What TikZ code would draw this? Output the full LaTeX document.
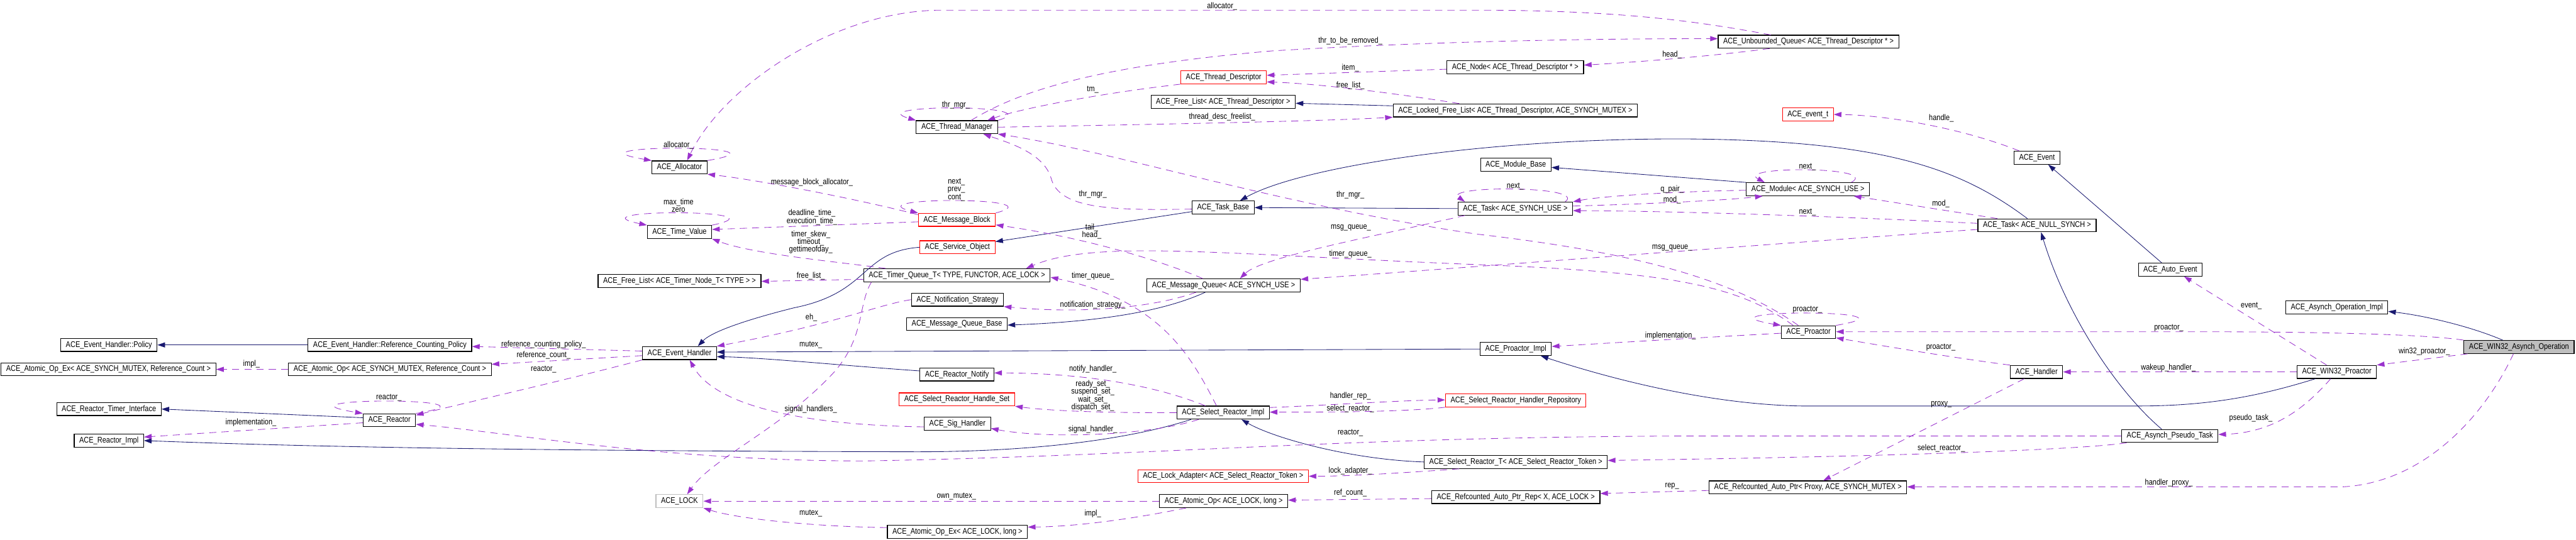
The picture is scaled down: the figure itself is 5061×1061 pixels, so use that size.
\documentclass[tikz,border=0pt]{standalone}
\usepackage{fontspec}
\setmainfont{Liberation Sans}[FakeStretch=0.84]
\usetikzlibrary{arrows.meta}
\definecolor{edgeblue}{HTML}{191970}
\definecolor{edgepurple}{HTML}{9A32CD}
\definecolor{boxgray}{HTML}{BFBFBF}

\begin{document}
\begin{tikzpicture}[
  x=0.01cm, y=-0.01cm,
  >={Triangle[length=0.15cm, width=0.1cm]},
  cls/.style={
    rectangle, draw=black, fill=white, line width=0.4pt,
    minimum height=0.255cm, inner xsep=0.1cm, inner ysep=0pt,
    font=\fontsize{4.6}{4.3}\selectfont
  },
  redcls/.style={cls, draw=red},
  graycls/.style={cls, draw=boxgray},
  focuscls/.style={cls, fill=boxgray},
  lbl/.style={inner sep=0pt, align=center, font=\fontsize{4.6}{4.3}\selectfont},
  inherit/.style={->, draw=edgeblue, line width=0.3pt},
  member/.style={->, draw=edgepurple, line width=0.3pt, dash pattern=on 0.14cm off 0.1cm},
]
\useasboundingbox (0,0) rectangle (5061,1061);

% Allocation and time
\node[cls] (alloc) at (1335,329) {ACE\_Allocator};
\node[cls] (tval) at (1335,456) {ACE\_Time\_Value};
\node[cls] (flTn) at (1335,552) {ACE\_Free\_List< ACE\_Timer\_Node\_T< TYPE > >};
\node[cls] (evh) at (1335,694) {ACE\_Event\_Handler};
\node[graycls] (lock) at (1335,985) {ACE\_LOCK};

% Threads
\node[cls] (tmgr) at (1880,250) {ACE\_Thread\_Manager};
\node[redcls] (tdesc) at (2404,152) {ACE\_Thread\_Descriptor};
\node[cls] (flTd) at (2403,200) {ACE\_Free\_List< ACE\_Thread\_Descriptor >};
\node[cls] (nodeTd) at (2977,132) {ACE\_Node< ACE\_Thread\_Descriptor * >};
\node[cls] (lflist) at (2977,217) {ACE\_Locked\_Free\_List< ACE\_Thread\_Descriptor, ACE\_SYNCH\_MUTEX >};
\node[cls] (uqueue) at (3553,82) {ACE\_Unbounded\_Queue< ACE\_Thread\_Descriptor * >};

% Tasks, modules, messages
\node[redcls] (mblock) at (1880,432) {ACE\_Message\_Block};
\node[redcls] (svcobj) at (1881,486) {ACE\_Service\_Object};
\node[cls] (tqueue) at (1880,541) {ACE\_Timer\_Queue\_T< TYPE, FUNCTOR, ACE\_LOCK >};
\node[cls] (nstrat) at (1881,589) {ACE\_Notification\_Strategy};
\node[cls] (mqbase) at (1880,637) {ACE\_Message\_Queue\_Base};
\node[cls] (taskbase) at (2403,408) {ACE\_Task\_Base};
\node[cls] (mqueue) at (2404,561) {ACE\_Message\_Queue< ACE\_SYNCH\_USE >};
\node[cls] (modbase) at (2978,324) {ACE\_Module\_Base};
\node[cls] (taskUse) at (2977,410) {ACE\_Task< ACE\_SYNCH\_USE >};
\node[cls] (module) at (3552,372) {ACE\_Module< ACE\_SYNCH\_USE >};
\node[redcls] (evt) at (3552,225) {ACE\_event\_t};
\node[cls] (event) at (4002,310) {ACE\_Event};
\node[cls] (taskNull) at (4002,443) {ACE\_Task< ACE\_NULL\_SYNCH >};
\node[cls] (autoevt) at (4264,530) {ACE\_Auto\_Event};

% Event handling and reactors
\node[cls] (policy) at (214,678) {ACE\_Event\_Handler::Policy};
\node[cls] (aopexRc) at (213,726) {ACE\_Atomic\_Op\_Ex< ACE\_SYNCH\_MUTEX, Reference\_Count >};
\node[cls] (rti) at (214,804) {ACE\_Reactor\_Timer\_Interface};
\node[cls] (rimpl) at (214,866) {ACE\_Reactor\_Impl};
\node[cls] (rcpolicy) at (766,678) {ACE\_Event\_Handler::Reference\_Counting\_Policy};
\node[cls] (aopRc) at (766,726) {ACE\_Atomic\_Op< ACE\_SYNCH\_MUTEX, Reference\_Count >};
\node[cls] (reactor) at (765,826) {ACE\_Reactor};
\node[cls] (rnotify) at (1880,736) {ACE\_Reactor\_Notify};
\node[redcls] (hset) at (1880,785) {ACE\_Select\_Reactor\_Handle\_Set};
\node[cls] (sigh) at (1881,833) {ACE\_Sig\_Handler};
\node[cls] (aopexL) at (1881,1045) {ACE\_Atomic\_Op\_Ex< ACE\_LOCK, long >};
\node[cls] (srimpl) at (2403,811) {ACE\_Select\_Reactor\_Impl};
\node[redcls] (ladapter) at (2403,936) {ACE\_Lock\_Adapter< ACE\_Select\_Reactor\_Token >};
\node[cls] (aopL) at (2404,985) {ACE\_Atomic\_Op< ACE\_LOCK, long >};
\node[cls] (pimpl) at (2978,686) {ACE\_Proactor\_Impl};
\node[redcls] (hrepo) at (2978,787) {ACE\_Select\_Reactor\_Handler\_Repository};
\node[cls] (srT) at (2978,908) {ACE\_Select\_Reactor\_T< ACE\_Select\_Reactor\_Token >};
\node[cls] (raprep) at (2978,977) {ACE\_Refcounted\_Auto\_Ptr\_Rep< X, ACE\_LOCK >};

% Proactor side
\node[cls] (proactor) at (3553,653) {ACE\_Proactor};
\node[cls] (handler) at (4001,731) {ACE\_Handler};
\node[cls] (rap) at (3552,958) {ACE\_Refcounted\_Auto\_Ptr< Proxy, ACE\_SYNCH\_MUTEX >};
\node[cls] (pseudo) at (4263,857) {ACE\_Asynch\_Pseudo\_Task};
\node[cls] (aoimpl) at (4591,604) {ACE\_Asynch\_Operation\_Impl};
\node[cls] (w32p) at (4591,731) {ACE\_WIN32\_Proactor};
\node[focuscls] (w32op) at (4949,682) {ACE\_WIN32\_Asynch\_Operation};

% Inheritance
\draw[inherit] (rcpolicy.west) -- (policy.east);
\draw[inherit] (reactor.west |- 0,821) -- (rti.east);
\draw[inherit] (srimpl.south -| 2340,0) .. controls (2230,860) and (2050,888) .. (1800,888)
  .. controls (1000,886) and (600,878) .. (rimpl.east);
\draw[inherit] (srT.west) .. controls (2650,903) and (2500,860) .. (srimpl.south -| 2439,0);
\draw[inherit] (rnotify.west |- 0,729) .. controls (1650,718) and (1500,703) .. (evh.east |- 0,701);
\draw[inherit] (pimpl.west) -- (evh.east |- 0,692);
\draw[inherit] (svcobj.west) .. controls (1690,495) and (1710,575) .. (1560,605)
  .. controls (1480,625) and (1400,650) .. (evh.north -| 1371,0);
\draw[inherit] (taskbase.west |- 0,416) -- (svcobj.east |- 0,475);
\draw[inherit] (taskUse.west) -- (taskbase.east);
\draw[inherit] (taskNull.north -| 3983,0) .. controls (3850,330) and (3700,275) .. (3300,273)
  .. controls (2900,273) and (2550,330) .. (taskbase.north -| 2436,0);
\draw[inherit] (module.north west) -- (modbase.east |- 0,329);
\draw[inherit] (lflist.west |- 0,208) -- (flTd.east |- 0,203);
\draw[inherit] (mqueue.south -| 2368,0) .. controls (2290,610) and (2170,632) .. (mqbase.east |- 0,639);
\draw[inherit] (autoevt.north -| 4247,0) -- (event.south -| 4024,0);
\draw[inherit] (pseudo.north -| 4247,0) .. controls (4160,770) and (4060,620) .. (taskNull.south -| 4010,0);
\draw[inherit] (w32p.south -| 4549,0) .. controls (4450,775) and (4350,798) .. (4200,798) -- (3540,798)
  .. controls (3350,795) and (3150,740) .. (pimpl.south -| 3027,0);
\draw[inherit] (w32op.north -| 4917,0) .. controls (4850,640) and (4760,620) .. (aoimpl.east |- 0,612);

% Members: threads and allocation
\draw[member] (uqueue.north -| 3479,0) .. controls (3350,45) and (3200,20) .. (2900,20) -- (1850,20)
  .. controls (1640,20) and (1420,170) .. (alloc.north -| 1350,0);
\draw[member] (alloc.north east) .. controls +(190,-32) and +(-190,-32) .. (alloc.north west);
\draw[member] (mblock.west |- 0,422) .. controls (1700,395) and (1500,355) .. (alloc.south east);
\draw[member] (mblock.north east) .. controls +(125,-32) and +(-125,-32) .. (mblock.north west);
\draw[member] (mblock.west |- 0,436) -- (tval.east |- 0,451);
\draw[member] (tval.north east) .. controls +(155,-32) and +(-155,-32) .. (tval.north west);
\draw[member] (tqueue.north -| 1740,0) .. controls (1650,515) and (1480,500) .. (tval.south east);
\draw[member] (tqueue.west |- 0,549) -- (flTn.east |- 0,553);
\draw[member] (tmgr.north east) .. controls +(110,-32) and +(-110,-32) .. (tmgr.north west);
\draw[member] (tdesc.south west) .. controls (2150,185) and (2000,215) .. (tmgr.north -| 1940,0);
\draw[member] (tmgr.north -| 1908,0) .. controls (2000,180) and (2150,130) .. (2500,100)
  .. controls (2800,82) and (3100,76) .. (uqueue.west |- 0,76);
\draw[member] (uqueue.south -| 3477,0) .. controls (3380,108) and (3250,120) .. (nodeTd.east |- 0,128);
\draw[member] (nodeTd.west |- 0,136) -- (tdesc.east |- 0,148);
\draw[member] (lflist.north -| 2867,0) .. controls (2750,185) and (2600,165) .. (tdesc.east |- 0,161);
\draw[member] (tmgr.east) .. controls (2300,244) and (2600,238) .. (lflist.south west);
\draw[member] (taskbase.west |- 0,411) .. controls (2180,414) and (2080,410) .. (2065,350)
  .. controls (2050,300) and (1980,280) .. (tmgr.south -| 1932,0);
\draw[member] (proactor.north -| 3533,0) .. controls (3420,560) and (3250,500) .. (2900,460)
  .. controls (2500,400) and (2200,300) .. (tmgr.south east);
\draw[member] (proactor.north -| 3523,0) .. controls (3420,565) and (3300,535) .. (2900,520)
  .. controls (2400,500) and (2150,470) .. (tqueue.north -| 2016,0);

% Members: tasks and queues
\draw[member] (mqueue.north -| 2363,0) .. controls (2300,520) and (2150,470) .. (mblock.east |- 0,442);
\draw[member] (taskUse.south -| 2878,0) .. controls (2700,465) and (2480,505) .. (mqueue.north -| 2436,0);
\draw[member] (taskNull.west |- 0,451) .. controls (3400,485) and (2900,525) .. (mqueue.east |- 0,549);
\draw[member] (srimpl.north -| 2390,0) .. controls (2340,700) and (2280,590) .. (tqueue.east |- 0,545);
\draw[member] (mqueue.south -| 2350,0) .. controls (2250,610) and (2100,615) .. (nstrat.south east);
\draw[member] (nstrat.west) .. controls (1720,600) and (1650,635) .. (evh.north east);
\draw[member] (tqueue.south -| 1712,0) .. controls (1685,600) and (1700,660) .. (1640,730)
  .. controls (1540,840) and (1400,900) .. (lock.north -| 1350,0);
\draw[member] (taskUse.north -| 3075,0) .. controls +(45,-32) and +(-45,-32) .. (taskUse.north -| 2878,0);
\draw[member] (module.north -| 3637,0) .. controls +(60,-32) and +(-60,-32) .. (module.north -| 3467,0);
\draw[member] (module.west |- 0,374) .. controls (3300,376) and (3150,385) .. (taskUse.north east);
\draw[member] (taskUse.east |- 0,405) .. controls (3200,402) and (3380,395) .. (module.south -| 3463,0);
\draw[member] (taskNull.north -| 3924,0) -- (module.south -| 3642,0);
\draw[member] (taskNull.west |- 0,439) .. controls (3600,425) and (3300,415) .. (taskUse.east |- 0,414);
\draw[member] (event.north -| 3967,0) .. controls (3850,250) and (3700,226) .. (evt.east);

% Members: event handlers and reactors
\draw[member] (sigh.west |- 0,839) .. controls (1550,835) and (1400,790) .. (evh.south -| 1355,0);
\draw[member] (evh.west |- 0,690) -- (rcpolicy.east |- 0,681);
\draw[member] (evh.west |- 0,699) -- (aopRc.east |- 0,716);
\draw[member] (evh.south west) .. controls (1100,750) and (900,795) .. (reactor.east |- 0,816);
\draw[member] (reactor.north east) .. controls +(200,-32) and +(-200,-32) .. (reactor.north west);
\draw[member] (pseudo.west) -- (3300,857) .. controls (2600,860) and (2300,895) .. (1700,906)
  .. controls (1300,906) and (1000,850) .. (reactor.east |- 0,834);
\draw[member] (reactor.west |- 0,831) -- (rimpl.east |- 0,859);
\draw[member] (aopRc.west) -- (aopexRc.east);
\draw[member] (srimpl.north -| 2368,0) .. controls (2250,750) and (2100,733) .. (rnotify.east |- 0,733);
\draw[member] (srimpl.west) .. controls (2150,812) and (2050,806) .. (hset.south east);
\draw[member] (srimpl.south -| 2355,0) .. controls (2250,858) and (2050,862) .. (sigh.east |- 0,842);
\draw[member] (aopL.west) -- (lock.east);
\draw[member] (aopexL.west |- 0,1037) .. controls (1600,1035) and (1450,1020) .. (lock.south east);
\draw[member] (aopL.south -| 2330,0) .. controls (2200,1025) and (2100,1035) .. (aopexL.east |- 0,1036);
\draw[member] (raprep.west |- 0,980) -- (aopL.east |- 0,983);
\draw[member] (rap.west |- 0,964) -- (raprep.east |- 0,970);
\draw[member] (srimpl.east |- 0,801) .. controls (2600,797) and (2750,787) .. (hrepo.west |- 0,786);
\draw[member] (hrepo.south west) .. controls (2760,810) and (2600,810) .. (srimpl.east |- 0,810);
\draw[member] (pseudo.south -| 4178,0) .. controls (4100,882) and (3800,896) .. (srT.east |- 0,905);
\draw[member] (srT.south -| 2867,0) .. controls (2750,930) and (2650,936) .. (ladapter.east);

% Members: proactor side
\draw[member] (proactor.west |- 0,655) .. controls (3350,663) and (3200,672) .. (pimpl.east |- 0,681);
\draw[member] (proactor.north east) .. controls +(190,-32) and +(-190,-32) .. (proactor.north west);
\draw[member] (handler.north west) .. controls (3850,705) and (3700,680) .. (proactor.east |- 0,664);
\draw[member] (w32op.north west) .. controls (4750,655) and (4500,652) .. (4300,652) -- (proactor.east |- 0,652);
\draw[member] (w32p.west) -- (handler.east);
\draw[member] (handler.south -| 3977,0) -- (rap.north -| 3582,0);
\draw[member] (w32op.south -| 4938,0) .. controls (4880,820) and (4760,950) .. (4600,957) -- (rap.east |- 0,957);
\draw[member] (w32op.south -| 4848,0) -- (w32p.north east);
\draw[member] (w32p.north -| 4571,0) -- (autoevt.south -| 4291,0);
\draw[member] (w32p.south -| 4579,0) .. controls (4530,800) and (4470,850) .. (pseudo.east |- 0,854);

% Edge labels
\node[lbl] (lbAllocQ) at (2401,13) {allocator\_};
\node[lbl] (lbAllocSelf) at (1333,285) {allocator\_};
\node[lbl] (lbMbAlloc) at (1595,359) {message\_block\_allocator\_};
\node[lbl] (lbTvSelf) at (1333,404) {max\_time\\zero};
\node[lbl] (lbDeadline) at (1595,427) {deadline\_time\_\\execution\_time\_};
\node[lbl] (lbSkew) at (1593,476) {timer\_skew\_\\timeout\_\\gettimeofday\_};
\node[lbl] (lbTmSelf) at (1878,207) {thr\_mgr\_};
\node[lbl] (lbTm) at (2147,176) {tm\_};
\node[lbl] (lbRemoved) at (2653,80) {thr\_to\_be\_removed\_};
\node[lbl] (lbHeadQ) at (3285,107) {head\_};
\node[lbl] (lbItem) at (2653,134) {item\_};
\node[lbl] (lbFreeTd) at (2653,168) {free\_list\_};
\node[lbl] (lbDescFree) at (2401,230) {thread\_desc\_freelist\_};
\node[lbl] (lbMbSelf) at (1879,373) {next\_\\prev\_\\cont\_};
\node[lbl] (lbTbMgr) at (2147,382) {thr\_mgr\_};
\node[lbl] (lbPrMgr) at (2653,383) {thr\_mgr\_};
\node[lbl] (lbTail) at (2145,455) {tail\_\\head\_};
\node[lbl] (lbTuSelf) at (2977,367) {next\_};
\node[lbl] (lbPair) at (3285,372) {q\_pair\_};
\node[lbl] (lbModU) at (3285,393) {mod\_};
\node[lbl] (lbHandle) at (3814,232) {handle\_};
\node[lbl] (lbModSelf) at (3551,328) {next\_};
\node[lbl] (lbModN) at (3813,401) {mod\_};
\node[lbl] (lbNextN) at (3551,417) {next\_};
\node[lbl] (lbMsgU) at (2654,448) {msg\_queue\_};
\node[lbl] (lbTqPr) at (2653,499) {timer\_queue\_};
\node[lbl] (lbMsgN) at (3285,487) {msg\_queue\_};
\node[lbl] (lbImplRc) at (494,716) {impl\_};
\node[lbl] (lbReSelf) at (764,781) {reactor\_};
\node[lbl] (lbImplRe) at (493,831) {implementation\_};
\node[lbl] (lbFreeTn) at (1593,543) {free\_list\_};
\node[lbl] (lbEh) at (1594,624) {eh\_};
\node[lbl] (lbRcPol) at (1068,677) {reference\_counting\_policy\_};
\node[lbl] (lbRcCnt) at (1068,698) {reference\_count\_};
\node[lbl] (lbEhRe) at (1068,726) {reactor\_};
\node[lbl] (lbMutexTq) at (1593,678) {mutex\_};
\node[lbl] (lbSigs) at (1593,804) {signal\_handlers\_};
\node[lbl] (lbMutexL) at (1593,1009) {mutex\_};
\node[lbl] (lbTqSr) at (2147,543) {timer\_queue\_};
\node[lbl] (lbNotStr) at (2147,600) {notification\_strategy\_};
\node[lbl] (lbNotify) at (2147,725) {notify\_handler\_};
\node[lbl] (lbSets) at (2147,778) {ready\_set\_\\suspend\_set\_\\wait\_set\_\\dispatch\_set\_};
\node[lbl] (lbSig) at (2147,844) {signal\_handler\_};
\node[lbl] (lbOwn) at (1879,976) {own\_mutex\_};
\node[lbl] (lbImplL) at (2147,1009) {impl\_};
\node[lbl] (lbImplPr) at (3282,660) {implementation\_};
\node[lbl] (lbRep) at (2653,779) {handler\_rep\_};
\node[lbl] (lbSelRe) at (2653,803) {select\_reactor\_};
\node[lbl] (lbPsRe) at (2653,851) {reactor\_};
\node[lbl] (lbLockAd) at (2653,925) {lock\_adapter\_};
\node[lbl] (lbRefCnt) at (2653,969) {ref\_count\_};
\node[lbl] (lbRepP) at (3285,955) {rep\_};
\node[lbl] (lbPrSelf) at (3551,609) {proactor\_};
\node[lbl] (lbHdPr) at (3813,683) {proactor\_};
\node[lbl] (lbProxy) at (3814,795) {proxy\_};
\node[lbl] (lbSelT) at (3814,881) {select\_reactor\_};
\node[lbl] (lbEvent) at (4423,601) {event\_};
\node[lbl] (lbOpPr) at (4261,645) {proactor\_};
\node[lbl] (lbW32) at (4763,691) {win32\_proactor\_};
\node[lbl] (lbWake) at (4260,723) {wakeup\_handler\_};
\node[lbl] (lbPseudo) at (4422,822) {pseudo\_task\_};
\node[lbl] (lbHProxy) at (4261,949) {handler\_proxy\_};

\end{tikzpicture}
\end{document}
